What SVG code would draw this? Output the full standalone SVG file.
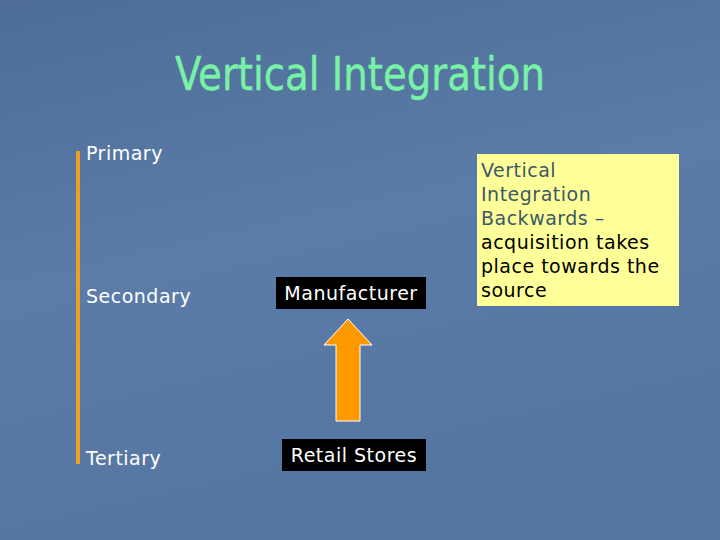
<svg xmlns="http://www.w3.org/2000/svg" width="720" height="540" viewBox="0 0 720 540">
<defs>
<linearGradient id="bg" x1="0" y1="0" x2="0.3" y2="1">
<stop offset="0" stop-color="#4d6d98"/>
<stop offset="0.5" stop-color="#5b7ca8"/>
<stop offset="1" stop-color="#5676a2"/>
</linearGradient>
<style>
.lbl{font-family:"DejaVu Sans",Verdana,sans-serif;font-size:19px;letter-spacing:0.5px;fill:#ffffff}
.box{fill:#000000}
.note{font-family:"DejaVu Sans",Verdana,sans-serif;font-size:19px;letter-spacing:0.5px}
</style>
</defs>
<rect x="0" y="0" width="720" height="540" fill="url(#bg)"/>
<text x="360" y="90" text-anchor="middle" font-family="Tahoma,'DejaVu Sans Condensed','Liberation Sans',sans-serif" font-size="46" fill="#78f2a6" stroke="#78f2a6" stroke-width="0.4" textLength="370" lengthAdjust="spacingAndGlyphs">Vertical Integration</text>
<g id="bar"><rect x="76" y="151" width="4" height="313" fill="#f0a020"/></g>
<g id="primary"><text class="lbl" x="86" y="160">Primary</text></g>
<g id="secondary"><text class="lbl" x="86" y="303">Secondary</text></g>
<g id="tertiary"><text class="lbl" x="86" y="465">Tertiary</text></g>
<g id="manufacturer"><rect class="box" x="276" y="277" width="150" height="32"/><text class="lbl" x="351" y="300" text-anchor="middle">Manufacturer</text></g>
<g id="retail"><rect class="box" x="282" y="439" width="144" height="32"/><text class="lbl" x="354" y="462" text-anchor="middle">Retail Stores</text></g>
<g id="connectors"><polygon points="348,319 372,345 360,345 360,421 336,421 336,345 324,345" fill="#ff9900" stroke="#ffffff" stroke-width="1"/></g>
<g id="note">
<rect x="477" y="154" width="202" height="152" fill="#ffff99"/>
<text class="note" x="481" y="177" fill="#3d5868">Vertical</text>
<text class="note" x="481" y="201" fill="#3d5868">Integration</text>
<text class="note" x="481" y="225" fill="#3d5868">Backwards –</text>
<text class="note" x="481" y="249" fill="#000000">acquisition takes</text>
<text class="note" x="481" y="273" fill="#000000">place towards the</text>
<text class="note" x="481" y="297" fill="#000000">source</text>
</g>
</svg>
